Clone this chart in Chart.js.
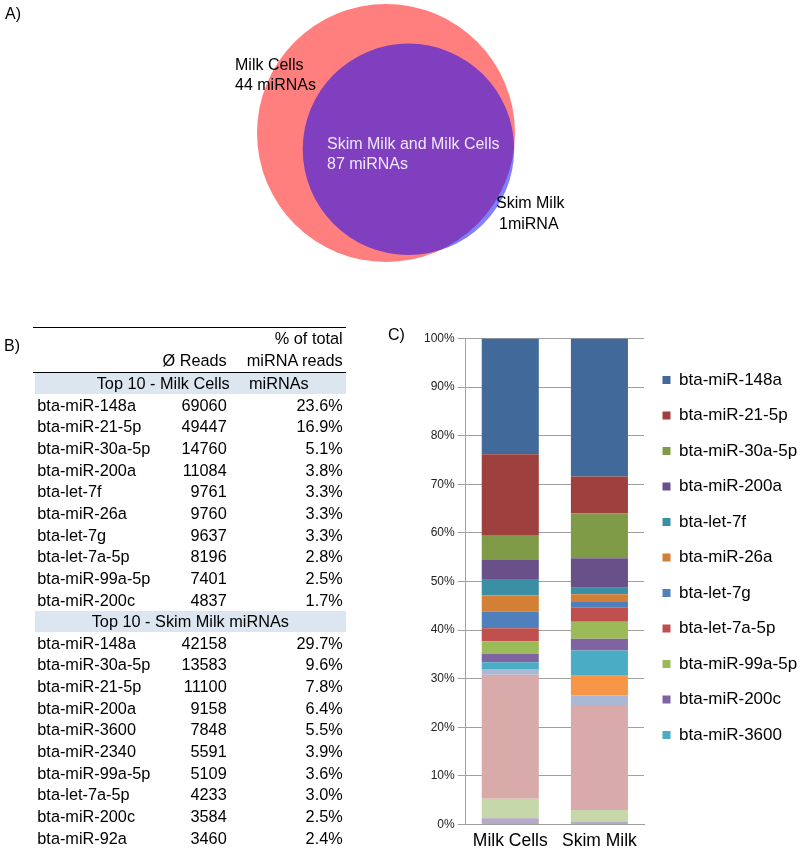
<!DOCTYPE html>
<html><head><meta charset="utf-8">
<script src="https://cdn.jsdelivr.net/npm/chart.js@4.4.1/dist/chart.umd.min.js"></script>
<style>
html,body{margin:0;padding:0;background:#fff;overflow:hidden;}
body{width:800px;height:850px;position:relative;font-family:"Liberation Sans",Arial,sans-serif;color:#000;}
.abs{position:absolute;white-space:nowrap;}
#vennCanvas{position:absolute;left:0;top:0;}
#barCanvas{position:absolute;left:370px;top:320px;}
.lbl{font-size:16px;line-height:20px;}
.t{font-size:16.3px;line-height:21.65px;height:21.65px;}
</style></head><body>
<canvas id="vennCanvas" width="560" height="280"></canvas>
<canvas id="barCanvas" width="430" height="530"></canvas>
<div id="texts"></div>
<script>
// ---------- DATA ----------
// Venn (A)
const vennLabels = ['Milk Cells', 'Skim Milk and Milk Cells', 'Skim Milk'];
const vennCountLabels = ['44 miRNAs', '87 miRNAs', '1miRNA'];
const vennCounts = [44, 87, 1]; // only milk cells, shared, only skim milk

// Table (B)
const tableHeaders = ['Ø Reads', '% of total', 'miRNA reads'];
const milkCellsTitle = ['Top 10 - Milk Cells', 'miRNAs'];
const milkCellsNames = ['bta-miR-148a','bta-miR-21-5p','bta-miR-30a-5p','bta-miR-200a','bta-let-7f','bta-miR-26a','bta-let-7g','bta-let-7a-5p','bta-miR-99a-5p','bta-miR-200c'];
const milkCellsReads = [69060, 49447, 14760, 11084, 9761, 9760, 9637, 8196, 7401, 4837];
const milkCellsPct = [23.6, 16.9, 5.1, 3.8, 3.3, 3.3, 3.3, 2.8, 2.5, 1.7];
const skimMilkTitle = 'Top 10 - Skim Milk miRNAs';
const skimMilkNames = ['bta-miR-148a','bta-miR-30a-5p','bta-miR-21-5p','bta-miR-200a','bta-miR-3600','bta-miR-2340','bta-miR-99a-5p','bta-let-7a-5p','bta-miR-200c','bta-miR-92a'];
const skimMilkReads = [42158, 13583, 11100, 9158, 7848, 5591, 5109, 4233, 3584, 3460];
const skimMilkPct = [29.7, 9.6, 7.8, 6.4, 5.5, 3.9, 3.6, 3.0, 2.5, 2.4];

// Stacked bars (C), series listed top of stack first
const barCategories = ['Milk Cells', 'Skim Milk'];
const seriesNames = ['bta-miR-148a','bta-miR-21-5p','bta-miR-30a-5p','bta-miR-200a','bta-let-7f','bta-miR-26a','bta-let-7g','bta-let-7a-5p','bta-miR-99a-5p','bta-miR-200c','bta-miR-3600','bta-miR-2340','bta-miR-92a','other miRNAs','series 15','series 16'];
const legendShown = 11;
const milkCellsShare = [23.8, 16.8, 5.0, 3.9, 3.4, 3.3, 3.4, 2.7, 2.6, 1.7, 1.4, 0.0, 1.2, 25.5, 4.0, 1.3];
const skimMilkShare  = [28.4, 7.6, 9.2, 6.1, 1.3, 1.6, 1.2, 2.9, 3.5, 2.4, 5.2, 4.0, 2.2, 21.4, 2.4, 0.6];
const seriesColors = ['#416a9b','#9e413e','#809b48','#6a5088','#3b8fa5','#d37f35','#4f80bc','#c0504d','#9bbb59','#8064a2','#4bacc6','#f79646','#a9b9d5','#d9aaaa','#c6d7aa','#b7aac9'];

const FONT = '"Liberation Sans", Arial, sans-serif';

// ---------- TEXT HELPERS ----------
const host = document.getElementById('texts');
function txt(s, x, top, cls, right, color) {
  const d = document.createElement('div');
  d.className = 'abs ' + cls;
  d.textContent = s;
  d.style.top = top + 'px';
  if (right) d.style.right = (800 - x) + 'px'; else d.style.left = x + 'px';
  if (color) d.style.color = color;
  host.appendChild(d);
  return d;
}
function rect(x, y, w, h, bg) {
  const d = document.createElement('div');
  d.className = 'abs';
  Object.assign(d.style, {left: x + 'px', top: y + 'px', width: w + 'px', height: h + 'px', background: bg});
  host.appendChild(d);
}

// ---------- PANEL LETTERS ----------
txt('A)', 5, 4, 'lbl');
txt('B)', 4, 335.5, 'lbl');
txt('C)', 388, 324.5, 'lbl');

// ---------- VENN ----------
txt(vennLabels[0], 235, 55.2, 'lbl');
txt(vennCountLabels[0], 235, 75.2, 'lbl');
txt(vennLabels[1], 327, 133.8, 'lbl', false, '#efe6f8');
txt(vennCountLabels[1], 327, 153.8, 'lbl', false, '#efe6f8');
txt(vennLabels[2], 496, 192.8, 'lbl');
txt(vennCountLabels[2], 499, 213.5, 'lbl');

(function drawVenn() {
  const nA = vennCounts[0] + vennCounts[1];
  const nB = vennCounts[1] + vennCounts[2];
  const k = 129 / Math.sqrt(nA);           // radius scale: area proportional to count
  const r1 = k * Math.sqrt(nA), r2 = k * Math.sqrt(nB);
  const target = Math.PI * k * k * vennCounts[1];
  function lens(d) {
    const a = r1 * r1 * Math.acos((d * d + r1 * r1 - r2 * r2) / (2 * d * r1));
    const b = r2 * r2 * Math.acos((d * d + r2 * r2 - r1 * r1) / (2 * d * r2));
    const c = 0.5 * Math.sqrt((-d + r1 + r2) * (d + r1 - r2) * (d - r1 + r2) * (d + r1 + r2));
    return a + b - c;
  }
  let lo = Math.abs(r1 - r2) + 1e-6, hi = r1 + r2 - 1e-6;
  for (let i = 0; i < 80; i++) { const m = (lo + hi) / 2; if (lens(m) > target) lo = m; else hi = m; }
  const d = (lo + hi) / 2;
  const cx = 386, cy = 133, ang = 36 * Math.PI / 180;
  const W = 560, H = 280;
  // Chart.js pads the chart area by the largest bubble radius; set the scale so
  // that one axis unit equals one canvas pixel.
  const pad = Math.max(r1, r2);
  new Chart(document.getElementById('vennCanvas'), {
    type: 'bubble',
    data: { datasets: [{
      label: 'Venn',
      data: [{x: cx, y: cy, r: r1}, {x: cx + d * Math.cos(ang), y: cy + d * Math.sin(ang), r: r2}],
      backgroundColor: ['rgba(255,0,0,0.5)', 'rgba(0,0,255,0.5)'],
      borderWidth: 0, hoverBorderWidth: 0, hoverRadius: 0
    }]},
    options: {
      responsive: false, animation: false, events: [],
      layout: {padding: 0},
      plugins: {legend: {display: false}, tooltip: {enabled: false}},
      scales: {
        x: {type: 'linear', min: pad, max: W - pad, display: false},
        y: {type: 'linear', min: pad, max: H - pad, reverse: true, display: false}
      },
      clip: false
    }
  });
})();

// ---------- TABLE ----------
(function drawTable() {
  const L = 35, W = 311, nameX = 37.3, readsR = 226.7, pctR = 342.7, rowH = 21.65, top0 = 373;
  rect(33, 327, 313, 1, '#000');
  txt(tableHeaders[1], pctR, 327.5, 't', true);
  txt(tableHeaders[0], readsR, 350.2, 't', true);
  txt(tableHeaders[2], pctR, 350.2, 't', true);
  rect(33, 371.5, 313, 1.5, '#000');
  rect(L, top0 + 0.3, W, 20.7, '#dce6f1');
  txt(milkCellsTitle[0], 96.7, top0, 't');
  txt(milkCellsTitle[1], 249, top0, 't');
  for (let i = 0; i < milkCellsNames.length; i++) {
    const t = top0 + (i + 1) * rowH;
    txt(milkCellsNames[i], nameX, t, 't');
    txt(String(milkCellsReads[i]), readsR, t, 't', true);
    txt(milkCellsPct[i].toFixed(1) + '%', pctR, t, 't', true);
  }
  const top1 = top0 + 11 * rowH;
  rect(L, top1 + 0.3, W, 20.7, '#dce6f1');
  txt(skimMilkTitle, 91.7, top1, 't');
  for (let i = 0; i < skimMilkNames.length; i++) {
    const t = top1 + (i + 1) * rowH;
    txt(skimMilkNames[i], nameX, t, 't');
    txt(String(skimMilkReads[i]), readsR, t, 't', true);
    txt(skimMilkPct[i].toFixed(1) + '%', pctR, t, 't', true);
  }
})();

// ---------- STACKED BAR ----------
(function drawBars() {
  const datasets = seriesNames.map((name, i) => ({
    label: name,
    data: [milkCellsShare[i], skimMilkShare[i]],
    backgroundColor: seriesColors[i],
    borderWidth: 0,
    barPercentage: 0.8,
    categoryPercentage: 0.8
  })).reverse(); // bottom of stack first
  new Chart(document.getElementById('barCanvas'), {
    type: 'bar',
    data: {labels: barCategories, datasets},
    options: {
      responsive: false, animation: false, events: [],
      layout: {padding: {top: 18.5, left: 0, right: 0, bottom: 0}},
      plugins: {
        tooltip: {enabled: false},
        legend: {
          position: 'right', align: 'start', fullSize: false, reverse: true, maxWidth: 156,
          title: {display: true, text: '', font: {size: 10}, padding: {top: 2.5, bottom: 0}},
          labels: {
            boxWidth: 8, boxHeight: 8, padding: 18.5, color: '#000',
            font: {size: 17, family: FONT},
            filter: item => seriesNames.indexOf(item.text) < legendShown
          }
        }
      },
      scales: {
        x: {
          stacked: true,
          grid: {display: false},
          border: {color: '#a0a0a0'},
          ticks: {color: '#000', font: {size: 17.5, family: FONT}, padding: -2, maxRotation: 0, autoSkip: false},
          afterFit: s => { s.height = 25.5; }
        },
        y: {
          stacked: true, min: 0, max: 100,
          grid: {color: '#a0a0a0', tickLength: 8},
          border: {color: '#a0a0a0'},
          ticks: {stepSize: 10, color: '#222', font: {size: 12, family: FONT}, padding: 3, callback: v => v + '%'},
          afterFit: s => { s.width = 95.7; }
        }
      }
    }
  });
})();
</script>
</body></html>
